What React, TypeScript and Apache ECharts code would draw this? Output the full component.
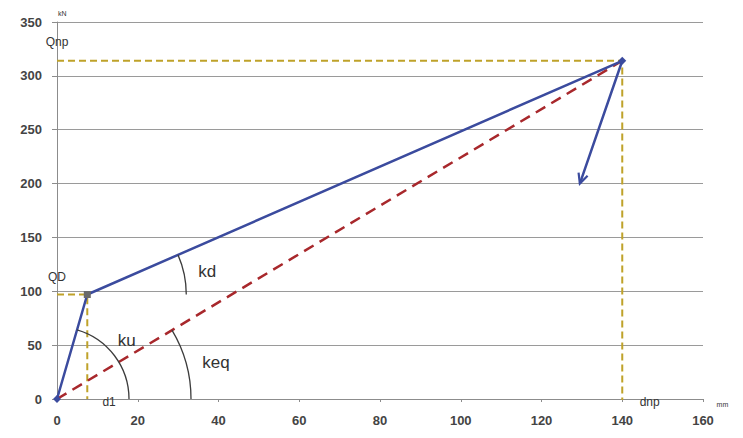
import React, { useEffect, useRef } from "react";
import * as echarts from "echarts";

// Force–displacement curve (mm, kN)
const curveX = [0, 7.5, 140, 129.5];
const curveY = [0, 97, 314, 200];
// Equivalent secant stiffness line
const equivX = [0, 140];
const equivY = [0, 314];
// Guide lines (dashed yellow)
const guideQDX = [0, 7.5, 7.5];
const guideQDY = [97, 97, 0];
const guideNpX = [0, 140, 140];
const guideNpY = [314, 314, -1];

const xMin = 0, xMax = 160, xStep = 20;
const yMin = 0, yMax = 350, yStep = 50;

const BLUE = "#3b4b9e";
const RED = "#a8282c";
const YELLOW = "#bfa22a";
const FONT = "Liberation Sans";

const zip = (xs: number[], ys: number[]) => xs.map((x, i) => [x, ys[i]]);

export default function App() {
  const ref = useRef<HTMLDivElement>(null);
  useEffect(() => {
    document.body.style.margin = "0";
    if (!ref.current) return;
    const chart = echarts.init(ref.current, null, { renderer: "svg" });
    chart.setOption({
      animation: false,
      grid: { left: 57, right: 40, top: 22, bottom: 39 },
      xAxis: {
        type: "value",
        min: xMin,
        max: xMax,
        interval: xStep,
        axisLine: { show: true, lineStyle: { color: "#8c8c8c", width: 1 } },
        axisTick: { show: true, length: 3, inside: false, lineStyle: { color: "#8c8c8c" } },
        axisLabel: { color: "#444", fontSize: 13, fontWeight: "bold", fontFamily: FONT, margin: 15 },
        splitLine: { show: false },
      },
      yAxis: {
        type: "value",
        min: yMin,
        max: yMax,
        interval: yStep,
        axisLine: { show: true, lineStyle: { color: "#8c8c8c", width: 1 } },
        axisTick: { show: true, length: 5, lineStyle: { color: "#8c8c8c" } },
        axisLabel: { color: "#444", fontSize: 13, fontWeight: "bold", fontFamily: FONT, margin: 15 },
        splitLine: { show: true, lineStyle: { color: "#9a9a9a", width: 1 } },
      },
      series: [
        {
          type: "line",
          data: zip(guideNpX, guideNpY),
          symbol: "none",
          lineStyle: { color: YELLOW, width: 2, type: [7, 4] },
          z: 2,
        },
        {
          type: "line",
          data: zip(guideQDX, guideQDY),
          symbol: "none",
          lineStyle: { color: YELLOW, width: 2, type: [7, 4] },
          z: 2,
        },
        {
          type: "line",
          data: zip(equivX, equivY),
          symbol: "none",
          lineStyle: { color: RED, width: 2.5, type: [11, 7] },
          z: 3,
        },
        {
          type: "line",
          data: zip(curveX, curveY).map((p, i) => ({
            value: p,
            symbol: i === curveX.length - 1 ? "none" : i === 1 ? "rect" : "diamond",
            symbolSize: i === 1 ? 7 : 8,
            itemStyle: { color: i === 1 ? "#6a6a6a" : BLUE },
          })),
          lineStyle: { color: BLUE, width: 2.5 },
          z: 4,
        },
      ],
    });

    const px = (x: number, y: number) => chart.convertToPixel({ gridIndex: 0 }, [x, y]) as number[];
    const o = px(0, 0);
    const qd = px(curveX[1], curveY[1]);
    const np = px(curveX[2], curveY[2]);
    const end = px(curveX[3], curveY[3]);
    const ang = (a: number[], b: number[]) => Math.atan2(a[1] - b[1], b[0] - a[0]);
    const aU = ang(o, qd);
    const aEq = ang(o, np);
    const aD = ang(qd, np);

    // arrow head
    const dir = Math.atan2(end[1] - np[1], end[0] - np[0]);
    const hl = 11, spread = 0.45;
    const h1 = [end[0] - hl * Math.cos(dir - spread), end[1] - hl * Math.sin(dir - spread)];
    const h2 = [end[0] - hl * Math.cos(dir + spread), end[1] - hl * Math.sin(dir + spread)];

    const txt = (x: number, y: number, text: string, size: number, weight = "normal") => {
      const p = px(x, y);
      return {
        type: "text",
        x: p[0],
        y: p[1],
        z: 10,
        style: {
          text,
          fill: "#333",
          font: `${weight} ${size}px ${FONT}`,
          align: "center",
          verticalAlign: "middle",
        },
      };
    };
    const arc = (c: number[], r: number, a: number) => ({
      type: "arc",
      z: 9,
      shape: { cx: c[0], cy: c[1], r, startAngle: -a, endAngle: 0, clockwise: true },
      style: { stroke: "#3c3c3c", lineWidth: 1.3, fill: "none" },
    });

    chart.setOption({
      graphic: [
        arc(o, 72, aU),
        arc(o, 134, aEq),
        arc(qd, 99, aD),
        {
          type: "polyline",
          z: 9,
          shape: { points: [h1, end, h2] },
          style: { stroke: BLUE, lineWidth: 2.2, fill: "none" },
        },
        txt(17.3, 54, "ku", 17),
        txt(37.2, 118, "kd", 17),
        txt(39.4, 34, "keq", 17),
        txt(0, 331.5, "Qnp", 12),
        txt(0, 113, "QD", 12),
        txt(12.9, -2.5, "d1", 12),
        txt(146.8, -2.5, "dnp", 12),
        txt(164.8, -5.5, "mm", 7),
        txt(1.3, 358, "kN", 7),
      ],
    });

    return () => chart.dispose();
  }, []);
  return <div ref={ref} style={{ width: 743, height: 438 }} />;
}
